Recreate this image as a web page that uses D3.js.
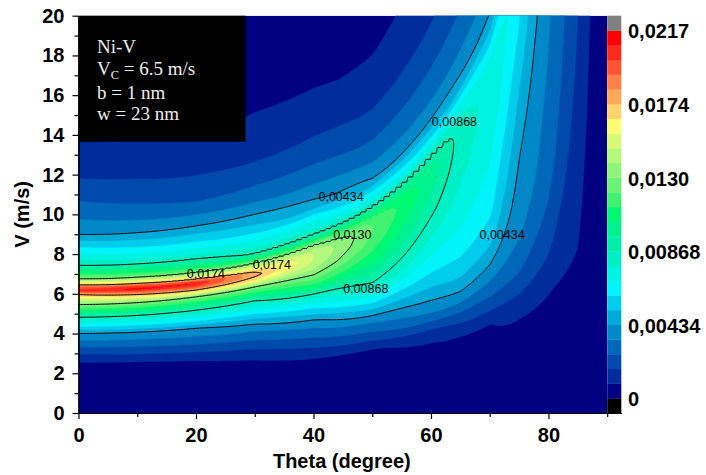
<!DOCTYPE html>
<html>
<head>
<meta charset="utf-8">
<script src="https://cdn.jsdelivr.net/npm/d3@7"></script>
<style>
  body { margin: 0; background: #fff; }
  svg { display: block; }
</style>
</head>
<body>
<script>
// sampled misorientation angles (degree), one row of rates per angle
var angles = [0, 10, 20, 30, 40, 50, 60, 65, 70, 75, 80, 85, 88, 90];
// normal velocity V*cos(theta) in m/s, one column per entry
var normalSpeeds = [0, 0.5, 1, 1.5, 2, 2.5, 3, 3.5, 4, 4.5, 5, 5.5, 5.8, 6, 6.15, 6.3, 6.5, 6.75, 7, 7.5, 8, 9, 10, 11, 12, 14, 17, 20];
var rates = [
  /*  0 */ [0, 0, .0001, .0002, .0004, .0008, .0018, .0031, .0043, .0069, .0097, .0133, .0158, .0178, .0203, .0196, .0167, .0130, .0113, .0083, .0070, .0043, .0032, .0023, .0016, .0007, .0003, .0002],
  /* 10 */ [0, 0, .0001, .0002, .0004, .0008, .0019, .0031, .0043, .0068, .0096, .0132, .0165, .0190, .0212, .0198, .0160, .0128, .0108, .0081, .0066, .0042, .0029, .0021, .0015, .0007, .0003, .0002],
  /* 20 */ [0, 0, .0001, .0002, .0004, .0009, .0020, .0032, .0043, .0068, .0094, .0130, .0172, .0200, .0209, .0181, .0147, .0120, .0100, .0078, .0063, .0040, .0026, .0019, .0012, .0006, .0003, .0002],
  /* 30 */ [0, 0, .0001, .0002, .0005, .0011, .0022, .0033, .0047, .0068, .0092, .0130, .0165, .0178, .0174, .0158, .0134, .0104, .0084, .0070, .0056, .0037, .0025, .0017, .0012, .0006, .0003, .0002],
  /* 40 */ [0, 0, .0001, .0003, .0007, .0017, .0028, .0040, .0059, .0081, .0115, .0138, .0146, .0148, .0147, .0141, .0128, .0096, .0081, .0066, .0047, .0032, .0022, .0015, .0010, .0005, .0002, .0001],
  /* 50 */ [0, 0, .0002, .0004, .0007, .0022, .0037, .0058, .0080, .0096, .0108, .0118, .0121, .0122, .0120, .0115, .0101, .0081, .0069, .0045, .0036, .0024, .0016, .0011, .0007, .0003, .0001, .0001],
  /* 60 */ [0, 0, .0001, .0004, .0013, .0034, .0048, .0060, .0070, .0079, .0088, .0095, .0099, .0100, .0099, .0095, .0085, .0071, .0058, .0040, .0033, .0023, .0016, .0012, .0009, .0005, .0003, .0002],
  /* 65 */ [0, 0, .0001, .0005, .0020, .0041, .0055, .0064, .0070, .0075, .0079, .0082, .0083, .0083, .0082, .0079, .0073, .0060, .0047, .0038, .0031, .0023, .0017, .0012, .0009, .0005, .0003, .0002],
  /* 70 */ [0, 0, .0002, .0008, .0026, .0042, .0055, .0063, .0067, .0071, .0074, .0075, .0075, .0072, .0068, .0062, .0054, .0046, .0041, .0034, .0029, .0022, .0016, .0012, .0009, .0005, .0003, .0002],
  /* 75 */ [0, .0001, .0003, .0016, .0031, .0038, .0041, .0045, .0050, .0055, .0060, .0064, .0066, .0066, .0066, .0064, .0060, .0055, .0050, .0042, .0036, .0026, .0019, .0014, .0010, .0006, .0003, .0002],
  /* 80 */ [0, .0001, .0008, .0020, .0028, .0032, .0034, .0036, .0038, .0041, .0044, .0046, .0047, .0047, .0047, .0046, .0044, .0041, .0038, .0033, .0029, .0022, .0016, .0012, .0009, .0005, .0003, .0002],
  /* 85 */ [0, .0006, .0012, .0016, .0019, .0021, .0023, .0024, .0025, .0025, .0025, .0025, .0025, .0025, .0025, .0025, .0024, .0023, .0022, .0020, .0018, .0015, .0012, .0009, .0007, .0004, .0002, .0001],
  /* 88 */ [0, .0004, .0007, .0009, .0010, .0010, .0010, .0010, .0010, .0010, .0010, .0010, .0010, .0010, .0010, .0010, .0010, .0009, .0009, .0008, .0007, .0006, .0005, .0004, .0003, .0002, .0001, .0001],
  /* 90 */ [0, 0, 0, 0, 0, 0, 0, 0, 0, 0, 0, 0, 0, 0, 0, 0, 0, 0, 0, 0, 0, 0, 0, 0, 0, 0, 0, 0]
];

var levelStep = 0.000868;
var lineLevels = [0.00434, 0.00868, 0.0130, 0.0174];
var barTicks = [0, 0.00434, 0.00868, 0.0130, 0.0174, 0.0217];
var barTickLabels = ["0", "0,00434", "0,00868", "0,0130", "0,0174", "0,0217"];
// band colours, lowest band first
var bandColors = ["#000080", "#002c9e", "#004aab", "#0068b9", "#0088c8", "#00aad8", "#00cdec", "#00f4fa",
  "#00f2e0", "#00f0c6", "#00f0aa", "#00f28e", "#00f872", "#40f270", "#6cf276", "#90f47c",
  "#b4f87e", "#d8f878", "#fcfc70", "#ffd470", "#ffaa58", "#ff8048", "#ff5434", "#ff2a1e", "#ff0000"];
var overColor = "#808080", underColor = "#000000";

// labels written on the isolines
var lineLabels = [
  {text: "0,00434", theta: 44.7, v: 10.9},
  {text: "0,00868", theta: 64.0, v: 14.65},
  {text: "0,0174", theta: 21.7, v: 7.0},
  {text: "0,0174", theta: 32.9, v: 7.45},
  {text: "0,0130", theta: 46.6, v: 8.96},
  {text: "0,00868", theta: 48.9, v: 6.24},
  {text: "0,00434", theta: 72.1, v: 8.96}
];

var W = 706, H = 475;
var x = d3.scaleLinear().domain([0, 92.4]).range([78.5, 621.3]);
var y = d3.scaleLinear().domain([0, 20]).range([413, 15.7]);

var svg = d3.select("body").append("svg").attr("width", W).attr("height", H);

// bilinear lookup in the (angle, normal speed) table
function rateAt(theta, v) {
  theta = Math.abs(theta);
  if (theta >= 90) return 0;
  var u = Math.max(0, v * Math.cos(theta * Math.PI / 180));
  u = Math.min(u, normalSpeeds[normalSpeeds.length - 1]);
  var i = Math.min(d3.bisectRight(angles, theta) - 1, angles.length - 2);
  var ta = (theta - angles[i]) / (angles[i + 1] - angles[i]);
  var j = Math.max(0, Math.min(d3.bisectRight(normalSpeeds, u) - 1, normalSpeeds.length - 2));
  var ua = (u - normalSpeeds[j]) / (normalSpeeds[j + 1] - normalSpeeds[j]);
  var r0 = rates[i], r1 = rates[i + 1];
  var a = r0[j] + (r0[j + 1] - r0[j]) * ua;
  var b = r1[j] + (r1[j + 1] - r1[j]) * ua;
  return a + (b - a) * ta;
}

// the steep upper flank of the ridge was solved on a 1 degree mesh,
// so it is looked up per whole degree there (gives the stepped edge)
function cellValue(theta, v) {
  var s = rateAt(theta, v);
  var u = v * Math.cos(theta * Math.PI / 180);
  if (theta > 12 && theta < 64 && u > 6.2) {
    var q = rateAt(Math.floor(theta) + 0.5, v);
    if (q > 0.0082) return q;
  }
  return s;
}

// grid a little larger than the plot so isolines don't run along the frame
var t0 = -1, t1 = 91, v0 = -0.5, v1 = 20.5;
var nx = 368, ny = 420;
var grid = new Float64Array(nx * ny);
for (var jj = 0; jj < ny; jj++) {
  for (var ii = 0; ii < nx; ii++) {
    var th = t0 + (ii + 0.5) * (t1 - t0) / nx;
    var vv = v0 + (jj + 0.5) * (v1 - v0) / ny;
    grid[jj * nx + ii] = cellValue(th, vv);
  }
}

var proj = d3.geoTransform({
  point: function(px, py) {
    this.stream.point(x(t0 + px * (t1 - t0) / nx), y(v0 + py * (v1 - v0) / ny));
  }
});
var path = d3.geoPath(proj);

svg.append("clipPath").attr("id", "plot-clip")
  .append("rect")
  .attr("x", x(0)).attr("y", y(20))
  .attr("width", x(90) - x(0)).attr("height", y(0) - y(20));

var plot = svg.append("g").attr("clip-path", "url(#plot-clip)");

plot.append("rect")
  .attr("x", x(0)).attr("y", y(20))
  .attr("width", x(90) - x(0)).attr("height", y(0) - y(20))
  .attr("fill", bandColors[0]);

var bandThresholds = d3.range(1, 25).map(function(k) { return k * levelStep; });
var bands = d3.contours().size([nx, ny]).thresholds(bandThresholds)(grid);

plot.selectAll("path.band").data(bands).enter().append("path")
  .attr("class", "band")
  .attr("d", path)
  .attr("fill", function(d, k) { return bandColors[k + 1]; })
  .attr("stroke", function(d, k) { return bandColors[k + 1]; })
  .attr("stroke-width", 0.4);

var isolines = d3.contours().size([nx, ny]).thresholds(lineLevels)(grid);
plot.selectAll("path.iso").data(isolines).enter().append("path")
  .attr("class", "iso")
  .attr("d", path)
  .attr("fill", "none")
  .attr("stroke", "#000")
  .attr("stroke-width", 1);

plot.selectAll("text.iso-label").data(lineLabels).enter().append("text")
  .attr("class", "iso-label")
  .attr("x", function(d) { return x(d.theta); })
  .attr("y", function(d) { return y(d.v); })
  .attr("dy", "0.35em")
  .attr("text-anchor", "middle")
  .attr("font-family", "'Liberation Sans', Arial, sans-serif")
  .attr("font-size", 12.5)
  .attr("fill", "#000")
  .text(function(d) { return d.text; });

// info box in the upper left corner
var info = svg.append("g");
info.append("rect")
  .attr("x", x(0)).attr("y", y(20))
  .attr("width", 245.5 - x(0)).attr("height", 141.7 - y(20))
  .attr("fill", "#000");
var infoText = info.append("g")
  .attr("font-family", "'Liberation Serif', 'Times New Roman', serif")
  .attr("font-size", 19)
  .attr("fill", "#eeeeee");
infoText.append("text").attr("x", 97).attr("y", 53).text("Ni-V");
var vc = infoText.append("text").attr("x", 97).attr("y", 75);
vc.append("tspan").text("V");
vc.append("tspan").attr("font-size", 12.5).attr("dy", 3.6).text("C");
vc.append("tspan").attr("dy", -3.6).text(" = 6.5 m/s");
infoText.append("text").attr("x", 97).attr("y", 98.5).text("b = 1 nm");
infoText.append("text").attr("x", 97).attr("y", 120).text("w = 23 nm");

// colour scale bar sitting right of theta = 90
var barX = x(90), barW = x(92.4) - x(90);
var barY = d3.scaleLinear().domain([-1, 26]).range([413, 15.7]);
var barCells = [{k: -1, c: underColor}].concat(bandColors.map(function(c, k) { return {k: k, c: c}; }), [{k: 25, c: overColor}]);
svg.append("g").selectAll("rect").data(barCells).enter().append("rect")
  .attr("x", barX)
  .attr("y", function(d) { return barY(d.k + 1); })
  .attr("width", barW)
  .attr("height", function(d) { return barY(d.k) - barY(d.k + 1) + 0.3; })
  .attr("fill", function(d) { return d.c; });

svg.append("g").selectAll("text").data(barTicks).enter().append("text")
  .attr("x", 628)
  .attr("y", function(d) { return barY(Math.round(d / levelStep)) + 1; })
  .attr("dy", "0.35em")
  .attr("font-family", "'Liberation Sans', Arial, sans-serif")
  .attr("font-weight", "bold")
  .attr("font-size", 20)
  .text(function(d, i) { return barTickLabels[i]; });

// axes
var tickFont = function(g) {
  g.selectAll("text")
    .attr("font-family", "'Liberation Sans', Arial, sans-serif")
    .attr("font-weight", "bold")
    .attr("font-size", 20)
    .attr("fill", "#000");
  g.selectAll("line, path").attr("stroke", "#000").attr("stroke-width", 1.2);
};

svg.append("g")
  .attr("transform", "translate(0," + y(0) + ")")
  .call(d3.axisBottom(x).tickValues(d3.range(10, 100, 20)).tickFormat("").tickSize(4).tickSizeOuter(0))
  .call(tickFont);
svg.append("g")
  .attr("transform", "translate(0," + y(0) + ")")
  .call(d3.axisBottom(x).tickValues(d3.range(0, 90, 20)).tickSize(6).tickPadding(9).tickSizeOuter(0))
  .call(tickFont);

svg.append("g")
  .attr("transform", "translate(" + x(0) + ",0)")
  .call(d3.axisLeft(y).tickValues(d3.range(1, 21, 2)).tickFormat("").tickSize(4).tickSizeOuter(0))
  .call(tickFont);
svg.append("g")
  .attr("transform", "translate(" + x(0) + ",0)")
  .call(d3.axisLeft(y).tickValues(d3.range(0, 21, 2)).tickSize(6).tickPadding(8).tickSizeOuter(0))
  .call(tickFont);

svg.append("text")
  .attr("x", (x(0) + x(90)) / 2 - 1)
  .attr("y", 468)
  .attr("text-anchor", "middle")
  .attr("font-family", "'Liberation Sans', Arial, sans-serif")
  .attr("font-weight", "bold")
  .attr("font-size", 20)
  .text("Theta (degree)");

svg.append("text")
  .attr("transform", "translate(29," + ((y(0) + y(20)) / 2) + ") rotate(-90)")
  .attr("text-anchor", "middle")
  .attr("font-family", "'Liberation Sans', Arial, sans-serif")
  .attr("font-weight", "bold")
  .attr("font-size", 20)
  .text("V (m/s)");
</script>
</body>
</html>
